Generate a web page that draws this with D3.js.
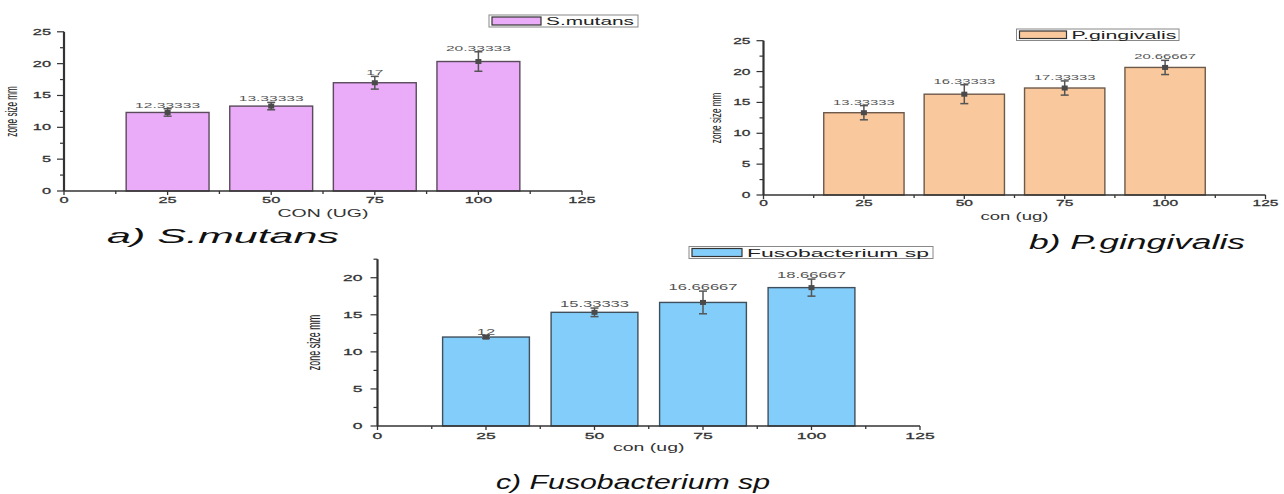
<!DOCTYPE html>
<html>
<head>
<meta charset="utf-8">
<script src="https://cdn.jsdelivr.net/npm/d3@7"></script>
<style>
  html, body { margin: 0; padding: 0; background: #fff; }
  svg { display: block; }
  text { font-family: "Liberation Sans", Arial, sans-serif; }
</style>
</head>
<body>
<svg id="fig" width="1284" height="494"></svg>
<script>
// Inhibition zone sizes (mm) against extract concentration (ug)
const concentrations = [25, 50, 75, 100];
const xTickValues = [0, 25, 50, 75, 100, 125];

const smutansMeans = [12.33333, 13.33333, 17, 20.33333];
const smutansErrors = [0.58, 0.58, 1.0, 1.53];
const smutansYTicks = [0, 5, 10, 15, 20, 25];

const pgingivalisMeans = [13.33333, 16.33333, 17.33333, 20.66667];
const pgingivalisErrors = [1.15, 1.53, 1.15, 1.15];
const pgingivalisYTicks = [0, 5, 10, 15, 20, 25];

const fusoMeans = [12, 15.33333, 16.66667, 18.66667];
const fusoErrors = [0.2, 0.58, 1.53, 1.15];
const fusoYTicks = [0, 5, 10, 15, 20];

const svg = d3.select("#fig");

// text stretched horizontally around its anchor point
function stretchText(g, x, y, str, o) {
  const t = g.append("text")
    .attr("transform", `translate(${x},${y}) scale(${o.sx || 1},1)` + (o.rotate ? " rotate(-90)" : ""))
    .attr("text-anchor", o.anchor || "middle")
    .attr("font-size", o.size)
    .attr("fill", o.fill || "#222")
    .text(str);
  if (o.italic) t.attr("font-style", "italic");
  if (o.heavy) t.attr("stroke", o.fill || "#222").attr("stroke-width", 0.25);
  return t;
}

function fittedText(g, x, y, str, width, o) {
  return g.append("text")
    .attr("x", x).attr("y", y)
    .attr("textLength", width)
    .attr("lengthAdjust", "spacingAndGlyphs")
    .attr("font-size", o.size)
    .attr("font-style", o.italic ? "italic" : null)
    .attr("fill", o.fill || "#222")
    .text(str);
}

const fmt = v => String(+v.toFixed(5));

function drawPanel(p) {
  const g = svg.append("g");
  const x = d3.scaleLinear().domain([0, 125]).range([p.left, p.right]);
  const y = d3.scaleLinear().domain([0, p.yMax]).range([p.bottom, p.top]);
  const data = concentrations.map((c, i) => ({ c, m: p.means[i], e: p.errors[i] }));

  // bars 20 ug wide, centred on each concentration
  g.selectAll("rect.bar").data(data).join("rect")
    .attr("class", "bar")
    .attr("x", d => x(d.c - 10))
    .attr("width", d => x(d.c + 10) - x(d.c - 10))
    .attr("y", d => y(d.m))
    .attr("height", d => y(0) - y(d.m))
    .attr("fill", p.fill)
    .attr("stroke", p.stroke)
    .attr("stroke-width", 1.4);

  // x axis with minor ticks
  const xMinor = d3.range(12.5, 125, 25);
  g.append("line").attr("x1", x(0)).attr("x2", x(125)).attr("y1", y(0)).attr("y2", y(0))
    .attr("stroke", "#333").attr("stroke-width", 1.4);
  g.selectAll("line.xmaj").data(xTickValues).join("line").attr("class", "xmaj")
    .attr("x1", d => x(d)).attr("x2", d => x(d)).attr("y1", y(0)).attr("y2", y(0) + 4)
    .attr("stroke", "#333").attr("stroke-width", 1.3);
  g.selectAll("line.xmin").data(xMinor).join("line").attr("class", "xmin")
    .attr("x1", d => x(d)).attr("x2", d => x(d)).attr("y1", y(0)).attr("y2", y(0) + 3)
    .attr("stroke", "#333").attr("stroke-width", 1.3);
  xTickValues.forEach(v => stretchText(g, x(v), p.xLabelY, v, { size: p.tickSize, sx: p.sx, fill: "#333", heavy: true }));

  // y axis with minor ticks
  const yMinor = d3.range(2.5, p.yMax + 0.01, 5);
  g.append("line").attr("x1", x(0)).attr("x2", x(0)).attr("y1", y(0)).attr("y2", y(p.yMax))
    .attr("stroke", "#333").attr("stroke-width", 2.2);
  g.selectAll("line.ymaj").data(p.yTicks).join("line").attr("class", "ymaj")
    .attr("x1", x(0) - 7).attr("x2", x(0)).attr("y1", d => y(d)).attr("y2", d => y(d))
    .attr("stroke", "#333").attr("stroke-width", 1.2);
  g.selectAll("line.ymin").data(yMinor).join("line").attr("class", "ymin")
    .attr("x1", x(0) - 4).attr("x2", x(0)).attr("y1", d => y(d)).attr("y2", d => y(d))
    .attr("stroke", "#333").attr("stroke-width", 1.2);
  p.yTicks.forEach(v => stretchText(g, x(0) - p.yLabelGap, y(v) + 3, v, { size: p.tickSize, sx: p.sx, anchor: "end", fill: "#333", heavy: true }));

  // error bars with mean markers
  const eb = g.selectAll("g.err").data(data).join("g").attr("class", "err");
  eb.append("line").attr("x1", d => x(d.c)).attr("x2", d => x(d.c))
    .attr("y1", d => y(d.m - d.e)).attr("y2", d => y(d.m + d.e))
    .attr("stroke", "#555").attr("stroke-width", 1.5);
  [-1, 1].forEach(s => eb.append("line")
    .attr("x1", d => x(d.c) - 4).attr("x2", d => x(d.c) + 4)
    .attr("y1", d => y(d.m + s * d.e)).attr("y2", d => y(d.m + s * d.e))
    .attr("stroke", "#555").attr("stroke-width", 1.5));
  eb.append("rect").attr("x", d => x(d.c) - 3).attr("y", d => y(d.m) - 2.5)
    .attr("width", 6).attr("height", 5).attr("fill", "#4a4a4a");

  // value labels
  data.forEach(d => stretchText(g, x(d.c), y(d.m + d.e) - 1, fmt(d.m), { size: p.valSize, sx: p.sx, fill: "#555" }));

  // axis titles
  stretchText(g, (x(0) + x(125)) / 2, p.xTitleY, p.xTitle, { size: p.titleSize, sx: p.sx, fill: "#333" });
  stretchText(g, p.yTitleX, (y(0) + y(p.yMax)) / 2, "zone size mm", { size: p.yTitleSize, sx: p.sx, rotate: true, fill: "#222" });

  // legend
  const L = p.legend;
  g.append("rect").attr("x", L.x).attr("y", L.y).attr("width", L.w).attr("height", L.h)
    .attr("fill", "#fff").attr("stroke", "#888").attr("stroke-width", 1);
  g.append("rect").attr("x", L.x + 3).attr("y", L.y + 2).attr("width", L.sw).attr("height", L.h - 4)
    .attr("fill", p.fill).attr("stroke", "#333").attr("stroke-width", 1.2);
  fittedText(g, L.x + L.sw + 8, L.y + L.h - 2, p.name, L.tw, { size: L.size });

  // panel caption
  fittedText(g, p.cap.x, p.cap.y, p.cap.text, p.cap.w, { size: p.cap.size, italic: true, fill: "#111" });
}

drawPanel({
  name: "S.mutans", means: smutansMeans, errors: smutansErrors, yTicks: smutansYTicks, yMax: 25,
  left: 64, right: 582, bottom: 191, top: 31.8,
  fill: "#EAACF8", stroke: "#5a4a5c", sx: 1.95,
  tickSize: 8.4, valSize: 8, titleSize: 10, yTitleSize: 8.2, yLabelGap: 13,
  xLabelY: 203, xTitle: "CON (UG)", xTitleY: 217, yTitleX: 17,
  legend: { x: 489, y: 15, w: 149, h: 12, sw: 49, tw: 88, size: 11 },
  cap: { text: "a) S.mutans", x: 107, y: 243, w: 232, size: 21 }
});

drawPanel({
  name: "P.gingivalis", means: pgingivalisMeans, errors: pgingivalisErrors, yTicks: pgingivalisYTicks, yMax: 25,
  left: 763.5, right: 1265.5, bottom: 195, top: 40.7,
  fill: "#F9C89C", stroke: "#6e5a4a", sx: 1.85,
  tickSize: 8.4, valSize: 8, titleSize: 10, yTitleSize: 8.2, yLabelGap: 13,
  xLabelY: 206, xTitle: "con (ug)", xTitleY: 219.5, yTitleX: 721,
  legend: { x: 1016.5, y: 29, w: 162.5, h: 11.5, sw: 47, tw: 105, size: 11 },
  cap: { text: "b) P.gingivalis", x: 1029, y: 249, w: 216, size: 20 }
});

drawPanel({
  name: "Fusobacterium sp", means: fusoMeans, errors: fusoErrors, yTicks: fusoYTicks, yMax: 22.5,
  left: 377.5, right: 920, bottom: 426, top: 259.2,
  fill: "#82CDFA", stroke: "#3f4f5c", sx: 1.95,
  tickSize: 9, valSize: 8.5, titleSize: 10, yTitleSize: 9, yLabelGap: 15,
  xLabelY: 439, xTitle: "con (ug)", xTitleY: 450.5, yTitleX: 320,
  legend: { x: 689, y: 246.5, w: 244, h: 12, sw: 50, tw: 182, size: 11 },
  cap: { text: "c) Fusobacterium sp", x: 496, y: 489, w: 274, size: 21 }
});
</script>
</body>
</html>
